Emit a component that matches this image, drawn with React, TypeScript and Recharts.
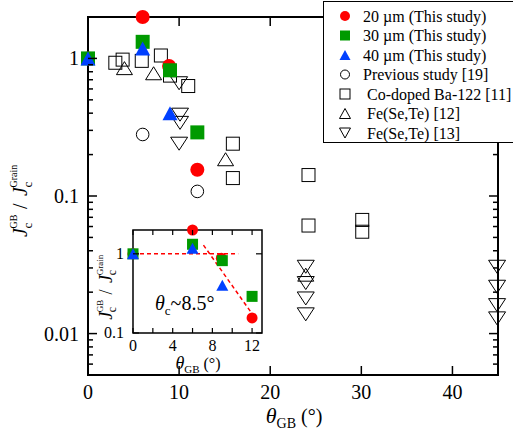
import React from 'react';
import { ScatterChart, Scatter, XAxis, YAxis, Legend, ReferenceArea, Customized } from 'recharts';

// θGB (deg) vs Jc(GB) / Jc(Grain)
const um20 = [{ x: 0, y: 1.0 }, { x: 6, y: 2.0 }, { x: 8.9, y: 0.88 }, { x: 12, y: 0.155 }];
const um30 = [{ x: 0, y: 1.0 }, { x: 6, y: 1.32 }, { x: 9, y: 0.82 }, { x: 12, y: 0.29 }];
const um40 = [{ x: 0, y: 1.0 }, { x: 6, y: 1.18 }, { x: 9, y: 0.4 }];
const prev19 = [{ x: 6, y: 0.28 }, { x: 12, y: 0.108 }];
const coBa122 = [
  { x: 3, y: 0.93 }, { x: 3.8, y: 0.98 }, { x: 5.9, y: 0.96 }, { x: 8, y: 1.05 },
  { x: 9, y: 0.75 }, { x: 11, y: 0.63 }, { x: 15.9, y: 0.24 }, { x: 15.9, y: 0.135 },
  { x: 24.2, y: 0.142 }, { x: 24.2, y: 0.061 }, { x: 30.1, y: 0.067 }, { x: 30.1, y: 0.055 },
];
const feSeTe12 = [{ x: 4, y: 0.85 }, { x: 7.2, y: 0.78 }, { x: 15.1, y: 0.185 }, { x: 23.9, y: 0.0268 }];
const feSeTe13 = [
  { x: 10, y: 0.66 }, { x: 10.1, y: 0.39 }, { x: 10.1, y: 0.34 }, { x: 10, y: 0.24 },
  { x: 23.9, y: 0.0306 }, { x: 23.9, y: 0.0233 }, { x: 23.9, y: 0.018 }, { x: 23.9, y: 0.0138 },
  { x: 44.9, y: 0.0306 }, { x: 44.9, y: 0.0219 }, { x: 44.9, y: 0.0161 }, { x: 44.9, y: 0.0129 },
];

// inset dashed guide lines
const fitFlat = [{ x: 0, y: 1 }, { x: 10.6, y: 1 }];
const fitSlope = [{ x: 7.1, y: 1.29 }, { x: 12, y: 0.175 }];

const xTicks = [0, 10, 20, 30, 40];
const yMajor = [0.01, 0.1, 1];
const yTicks = [
  0.005, 0.006, 0.007, 0.008, 0.009,
  0.01, 0.02, 0.03, 0.04, 0.05, 0.06, 0.07, 0.08, 0.09,
  0.1, 0.2, 0.3, 0.4, 0.5, 0.6, 0.7, 0.8, 0.9,
  1,
];
const insetXTicks = [0, 2, 4, 6, 8, 10, 12];
const insetXLabels = [0, 4, 8, 12];
const insetYTicks = [0.1, 1];

const RED = '#ff0000';
const GREEN = '#009a00';
const BLUE = '#0040ff';
const FONT = '"Liberation Serif", "Times New Roman", serif';

const P = { left: 88, right: 498, top: 17, bottom: 375 };
// inset frame in inset-svg pixels (the plot area is 8px larger all round so markers are not clipped)
const I = { left: 38, right: 167, top: 8, bottom: 111 };

// marker shapes
const dot = (r: number, fill: string) => (p: any) => <circle cx={p.cx} cy={p.cy} r={r} fill={fill} />;
const ring = (r: number) => (p: any) => <circle cx={p.cx} cy={p.cy} r={r} fill="none" stroke="#000" strokeWidth={1} />;
const box = (s: number, fill: string) => (p: any) => (
  <rect x={p.cx - s / 2} y={p.cy - s / 2} width={s} height={s} fill={fill} />
);
const openBox = (s: number) => (p: any) => (
  <rect x={p.cx - s / 2} y={p.cy - s / 2} width={s} height={s} fill="none" stroke="#000" strokeWidth={1} />
);
const tri = (w: number, h: number, fill: string, open = false, down = false) => (p: any) => {
  const a = down ? p.cy + h / 2 : p.cy - h / 2;
  const b = down ? p.cy - h / 2 : p.cy + h / 2;
  return (
    <polygon
      points={`${p.cx},${a} ${p.cx - w / 2},${b} ${p.cx + w / 2},${b}`}
      fill={open ? 'none' : fill}
      stroke={open ? '#000' : 'none'}
      strokeWidth={1}
    />
  );
};
const nothing = () => <g />;

function fmt(v: number) {
  return v === 1 ? '1' : v === 0.1 ? '0.1' : '0.01';
}

function MainYTick(props: any) {
  const y = props.payload.coordinate;
  const v = props.payload.value;
  const major = yMajor.includes(v);
  const len = major ? 9 : 5;
  return (
    <g>
      <line x1={P.left} x2={P.left + len} y1={y} y2={y} stroke="#000" strokeWidth={1.5} />
      <line x1={P.right} x2={P.right - len} y1={y} y2={y} stroke="#000" strokeWidth={1.5} />
      {major && (
        <text x={P.left - 9} y={y + 7} textAnchor="end" fontSize={20} fontFamily={FONT} fill="#000">
          {fmt(v)}
        </text>
      )}
    </g>
  );
}

function MainXTick(props: any) {
  const x = props.payload.coordinate;
  return (
    <g>
      <line x1={x} x2={x} y1={P.bottom} y2={P.bottom - 9} stroke="#000" strokeWidth={1.5} />
      <line x1={x} x2={x} y1={P.top} y2={P.top + 9} stroke="#000" strokeWidth={1.5} />
      <text x={x} y={399} textAnchor="middle" fontSize={20} fontFamily={FONT} fill="#000">
        {props.payload.value}
      </text>
    </g>
  );
}

function InsetXTick(props: any) {
  const x = props.payload.coordinate;
  const v = props.payload.value;
  return (
    <g>
      <line x1={x} x2={x} y1={I.bottom} y2={I.bottom - 5} stroke="#000" strokeWidth={1.2} />
      <line x1={x} x2={x} y1={I.top} y2={I.top + 5} stroke="#000" strokeWidth={1.2} />
      {insetXLabels.includes(v) && (
        <text x={x} y={129} textAnchor="middle" fontSize={16} fontFamily={FONT} fill="#000">
          {v}
        </text>
      )}
    </g>
  );
}

function InsetYTick(props: any) {
  const y = props.payload.coordinate;
  const v = props.payload.value;
  return (
    <g>
      <line x1={I.left} x2={I.left + 6} y1={y} y2={y} stroke="#000" strokeWidth={1.2} />
      <line x1={I.right} x2={I.right - 6} y1={y} y2={y} stroke="#000" strokeWidth={1.2} />
      <text x={I.left - 9} y={y + 5.5} textAnchor="end" fontSize={16} fontFamily={FONT} fill="#000">
        {fmt(v)}
      </text>
    </g>
  );
}

// J_c^GB / J_c^Grain, rotated
function JcRatio({ cx, cy, k }: { cx: number; cy: number; k: number }) {
  const big = 20 * k;
  const sub = 13 * k;
  const sup = 10 * k;
  const t = { fontFamily: FONT, fill: '#000' };
  return (
    <g transform={`translate(${cx},${cy}) rotate(-90)`}>
      <text x={-42 * k} y={3 * k} fontSize={big} fontStyle="italic" {...t}>J</text>
      <text x={-33.5 * k} y={8 * k} fontSize={sub} {...t}>c</text>
      <text x={-33.5 * k} y={-7 * k} fontSize={sup} {...t}>GB</text>
      <text x={-14 * k} y={3 * k} fontSize={big} {...t}>/</text>
      <text x={-1 * k} y={3 * k} fontSize={big} fontStyle="italic" {...t}>J</text>
      <text x={7.5 * k} y={8 * k} fontSize={sub} {...t}>c</text>
      <text x={7.5 * k} y={-7 * k} fontSize={sup} {...t}>Grain</text>
    </g>
  );
}

function MainLabels() {
  return (
    <g>
      <JcRatio cx={24} cy={195} k={1} />
      <text x={294} y={423} textAnchor="middle" fontSize={20} fontFamily={FONT} fill="#000">
        <tspan fontStyle="italic" fontSize={22}>θ</tspan>
        <tspan fontSize={14} dy={5}>GB</tspan>
        <tspan dy={-5}> (°)</tspan>
      </text>
    </g>
  );
}

function InsetLabels() {
  return (
    <g>
      <JcRatio cx={14} cy={60} k={0.9} />
      <text x={60} y={88} fontSize={20} fontFamily={FONT} fill="#000">
        <tspan fontStyle="italic">θ</tspan>
        <tspan fontSize={13} dy={5}>c</tspan>
        <tspan dy={-5}>~8.5°</tspan>
      </text>
      <text x={103} y={147} textAnchor="middle" fontSize={16} fontFamily={FONT} fill="#000">
        <tspan fontStyle="italic" fontSize={18}>θ</tspan>
        <tspan fontSize={11} dy={4}>GB</tspan>
        <tspan dy={-4}> (°)</tspan>
      </text>
    </g>
  );
}

const legendRows = [
  { label: '20 µm (This study)', icon: (y: number) => <circle cx={21} cy={y} r={5} fill={RED} />, tx: 39 },
  { label: '30 µm (This study)', icon: (y: number) => <rect x={16} y={y - 5} width={10} height={10} fill={GREEN} />, tx: 39 },
  { label: '40 µm (This study)', icon: (y: number) => <polygon points={`21,${y - 5} 15.5,${y + 5} 26.5,${y + 5}`} fill={BLUE} />, tx: 39 },
  { label: 'Previous study [19]', icon: (y: number) => <circle cx={21} cy={y} r={4.5} fill="none" stroke="#000" />, tx: 39 },
  { label: 'Co-doped Ba-122 [11]', icon: (y: number) => <rect x={16} y={y - 5} width={10} height={10} fill="none" stroke="#000" />, tx: 43 },
  { label: 'Fe(Se,Te) [12]', icon: (y: number) => <polygon points={`21,${y - 5} 15.5,${y + 5} 26.5,${y + 5}`} fill="none" stroke="#000" />, tx: 43 },
  { label: 'Fe(Se,Te) [13]', icon: (y: number) => <polygon points={`21,${y + 5} 15.5,${y - 5} 26.5,${y - 5}`} fill="none" stroke="#000" />, tx: 43 },
];

function LegendBox() {
  return (
    <svg width={192} height={142} style={{ display: 'block' }}>
      {legendRows.map((r, i) => {
        const y = 14 + i * 19.5;
        return (
          <g key={r.label}>
            {r.icon(y)}
            <text x={r.tx} y={y + 5.5} fontSize={16} fontFamily={FONT} fill="#000">{r.label}</text>
          </g>
        );
      })}
    </svg>
  );
}

export default function App() {
  return (
    <div style={{ position: 'absolute', left: 0, top: 0, width: 513, height: 432, background: '#fff', overflow: 'hidden' }}>
      <ScatterChart width={513} height={432} margin={{ top: 17, right: 15, bottom: 0, left: 0 }}>
        <XAxis
          type="number" dataKey="x" domain={[0, 45]} ticks={xTicks} interval={0}
          height={57} tickSize={0} tickMargin={0} axisLine={false} tickLine={false}
          tick={<MainXTick />}
        />
        <YAxis
          type="number" dataKey="y" scale="log" domain={[0.005, 2]} ticks={yTicks} interval={0}
          width={88} tickSize={0} tickMargin={0} axisLine={false} tickLine={false}
          tick={<MainYTick />}
        />
        <ReferenceArea x1={0} x2={45} y1={0.005} y2={2} fill="none" stroke="#000" strokeWidth={2} />
        <Scatter name="Co-doped Ba-122 [11]" data={coBa122} shape={openBox(13)} isAnimationActive={false} />
        <Scatter name="Fe(Se,Te) [12]" data={feSeTe12} shape={tri(16, 13, '#000', true)} isAnimationActive={false} />
        <Scatter name="Fe(Se,Te) [13]" data={feSeTe13} shape={tri(17, 13, '#000', true, true)} isAnimationActive={false} />
        <Scatter name="Previous study [19]" data={prev19} shape={ring(6.3)} isAnimationActive={false} />
        <Scatter name="20 µm (This study)" data={um20} shape={dot(7, RED)} isAnimationActive={false} />
        <Scatter name="30 µm (This study)" data={um30} shape={box(14, GREEN)} isAnimationActive={false} />
        <Scatter name="40 µm (This study)" data={um40} shape={tri(15, 14, BLUE)} isAnimationActive={false} />
        <Customized component={MainLabels} />
        <Legend
          layout="horizontal" verticalAlign="middle" align="center"
          content={() => <LegendBox />}
          wrapperStyle={{
            position: 'absolute', top: 1, left: 323, width: 192, height: 142, boxSizing: 'border-box',
            background: '#fff', border: '1.5px solid #000', borderRight: 'none',
          }}
        />
      </ScatterChart>

      <div style={{ position: 'absolute', left: 95, top: 222 }}>
        <ScatterChart width={175} height={160} margin={{ top: 0, right: 0, bottom: 0, left: 0 }}>
          <XAxis
            type="number" dataKey="x" domain={[-0.806, 13.806]} ticks={insetXTicks} interval={0}
            height={41} tickSize={0} tickMargin={0} axisLine={false} tickLine={false}
            tick={<InsetXTick />}
          />
          <YAxis
            type="number" dataKey="y" scale="log" domain={[0.0792, 2.523]} ticks={insetYTicks} interval={0}
            width={30} tickSize={0} tickMargin={0} axisLine={false} tickLine={false}
            tick={<InsetYTick />}
          />
          <ReferenceArea x1={0} x2={13} y1={0.1} y2={2} fill="none" stroke="#000" strokeWidth={1.5} />
          <Scatter data={fitFlat} line={{ stroke: RED, strokeWidth: 1.5, strokeDasharray: '4 3' }} shape={nothing} isAnimationActive={false} />
          <Scatter data={fitSlope} line={{ stroke: RED, strokeWidth: 1.5, strokeDasharray: '4 3' }} shape={nothing} isAnimationActive={false} />
          <Scatter data={um20} shape={dot(5.5, RED)} isAnimationActive={false} />
          <Scatter data={um30} shape={box(11, GREEN)} isAnimationActive={false} />
          <Scatter data={um40} shape={tri(12, 11, BLUE)} isAnimationActive={false} />
          <Customized component={InsetLabels} />
        </ScatterChart>
      </div>
    </div>
  );
}
